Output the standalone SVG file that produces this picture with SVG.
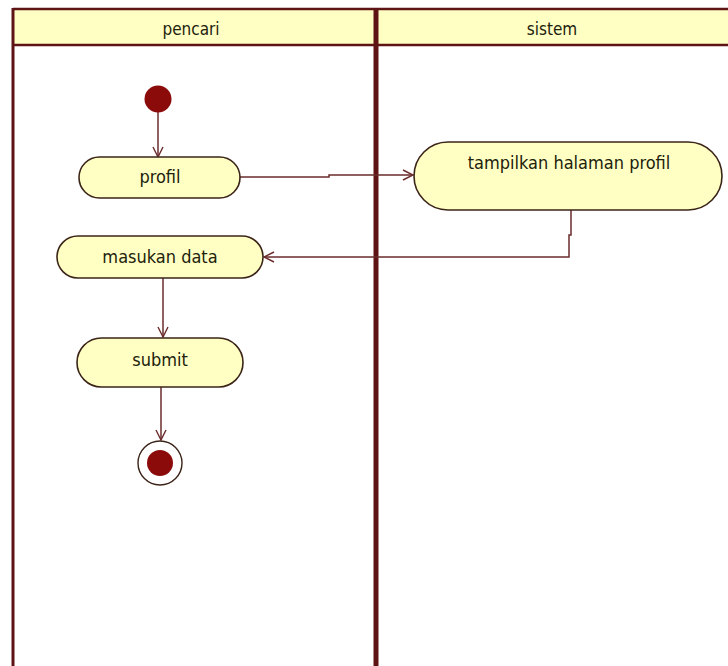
<svg xmlns="http://www.w3.org/2000/svg" width="728" height="666" viewBox="0 0 728 666">
  <style>
    .lane-head { fill: #ffffc4; }
    .lane-line { stroke: #5e1414; fill: none; }
    .action { fill: #ffffc4; stroke: #3b2418; stroke-width: 1.6; }
    .label { font-family: "DejaVu Sans Condensed", "DejaVu Sans", sans-serif; font-size: 18px; fill: #22220c; text-anchor: middle; }
    .head-label { font-size: 17px; }
    .flow { stroke: #6b2c2c; stroke-width: 1.5; fill: none; marker-end: url(#open-arrow); }
    .dot { fill: #8b0a0a; }
  </style>
  <defs>
    <marker id="open-arrow" viewBox="0 0 12 12" refX="11" refY="6" markerWidth="12" markerHeight="12" markerUnits="userSpaceOnUse" orient="auto">
      <path d="M1,1 L11,6 L1,11" fill="none" stroke="#6b2c2c" stroke-width="1.4"/>
    </marker>
  </defs>
  <rect width="728" height="666" fill="#ffffff"/>

  <!-- swimlanes -->
  <g id="lanes">
    <rect class="lane-head" x="13" y="9" width="720" height="36"/>
    <line class="lane-line" x1="13" y1="9" x2="728" y2="9" stroke-width="2.5"/>
    <line class="lane-line" x1="13" y1="45" x2="728" y2="45" stroke-width="2.5"/>
    <line class="lane-line" x1="13" y1="8" x2="13" y2="666" stroke-width="3"/>
    <line class="lane-line" x1="376" y1="8" x2="376" y2="666" stroke-width="5"/>
    <text class="label head-label" x="191" y="35">pencari</text>
    <text class="label head-label" x="552" y="35">sistem</text>
  </g>

  <!-- connectors -->
  <g id="connectors">
    <path class="flow" d="M158,112 L158,157"/>
    <path class="flow" d="M240,177 L329,177 L329,175 L413,175"/>
    <path class="flow" d="M571,210 L571,235 L569,235 L569,257 L264,257"/>
    <path class="flow" d="M163,278 L163,337"/>
    <path class="flow" d="M161,387 L161,440"/>
  </g>

  <g id="start">
    <circle class="dot" cx="158" cy="99" r="13.5"/>
  </g>

  <g id="profil">
    <rect class="action" x="79" y="157" width="161" height="41" rx="20.5" ry="20.5"/>
    <text class="label" x="160" y="183">profil</text>
  </g>

  <g id="tampilkan-halaman-profil">
    <rect class="action" x="414" y="142" width="308" height="68" rx="34" ry="34"/>
    <text class="label" x="569" y="169">tampilkan halaman profil</text>
  </g>

  <g id="masukan-data">
    <rect class="action" x="57" y="236" width="206" height="42" rx="21" ry="21"/>
    <text class="label" x="160" y="263">masukan data</text>
  </g>

  <g id="submit">
    <rect class="action" x="77" y="338" width="166" height="49" rx="24.5" ry="24.5"/>
    <text class="label" x="160" y="366">submit</text>
  </g>

  <g id="end">
    <circle cx="160" cy="463" r="22" fill="#ffffff" stroke="#3b2418" stroke-width="1.4"/>
    <circle class="dot" cx="160" cy="463" r="13"/>
  </g>
</svg>
